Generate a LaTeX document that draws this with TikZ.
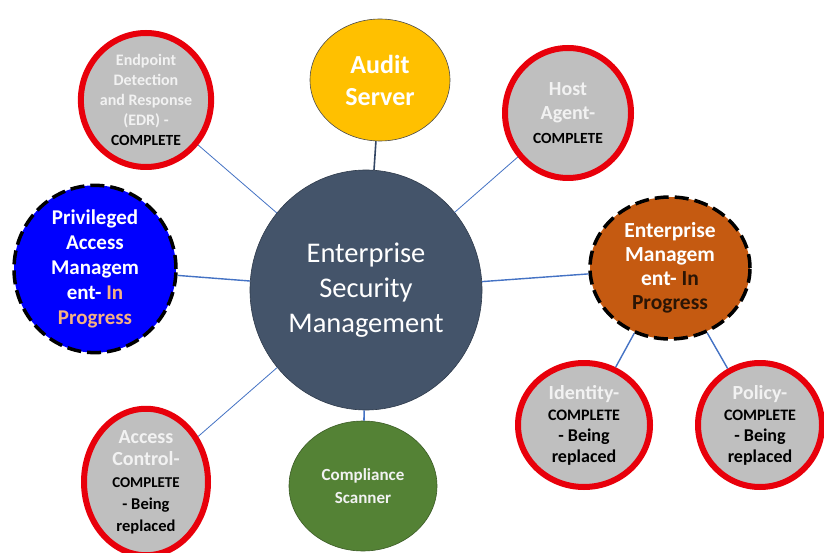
\documentclass[tikz,border=0pt]{standalone}
\usepackage{fontspec}
\setmainfont{Carlito}
\usetikzlibrary{shapes.geometric}
\definecolor{slate}{HTML}{44546A}
\definecolor{slateedge}{HTML}{2F3B4C}
\definecolor{audit}{HTML}{FFC000}
\definecolor{greyfill}{HTML}{BFBFBF}
\definecolor{redring}{HTML}{E8000B}
\definecolor{pamblue}{HTML}{0000FF}
\definecolor{emorange}{HTML}{C55A11}
\definecolor{green}{HTML}{548235}
\definecolor{linkblue}{HTML}{4472C4}
\definecolor{progorange}{HTML}{F4B183}
\definecolor{darkprog}{HTML}{2B1505}
\definecolor{paletxt}{HTML}{F2F2F2}
\tikzset{
  bubble/.style={ellipse, inner sep=0pt, align=center, font=\bfseries},
  done/.style={bubble, fill=greyfill, draw=redring, line width=6pt, text=paletxt},
  wip/.style={bubble, draw=black, line width=3.5pt, dash pattern=on 14pt off 6pt},
  link/.style={draw=linkblue, line width=0.8pt},
}
\newcommand{\blk}[2]{{\color{black}\fontsize{#1}{#2}\selectfont}}
\begin{document}
\begin{tikzpicture}[x=1pt,y=-1pt]
\useasboundingbox[fill=white] (0,0) rectangle (824,553);

\node[bubble, fill=slate, draw=slateedge, line width=0.6pt, minimum width=232pt, minimum height=240pt,
  font=\fontsize{28.5}{35}\selectfont, text=white] (esm) at (366,290) {Enterprise\\Security\\Management};

\node[bubble, fill=audit, draw=black!70, line width=0.6pt, minimum width=140pt, minimum height=122pt,
  font=\bfseries\fontsize{26}{32}\selectfont, text=white] (audit) at (380,80) {Audit\\Server};

\node[done, minimum width=128pt, minimum height=134pt, font=\bfseries\fontsize{16}{20}\selectfont]
  (edr) at (146,100) {Endpoint\\Detection\\and Response\\(EDR) -\\{\color{black}\fontsize{15.5}{20}\selectfont COMPLETE}};

\node[done, minimum width=126pt, minimum height=130pt, font=\bfseries\fontsize{20}{24}\selectfont]
  (host) at (568,113) {Host\\Agent-\\{\color{black}\fontsize{15.5}{22}\selectfont COMPLETE}};

\node[wip, fill=pamblue, minimum width=162pt, minimum height=142pt, text=white,
  font=\bfseries\fontsize{21}{25}\selectfont]
  (pam) at (95,269) {Privileged\\Access\\Managem\\ent- {\color{progorange}In}\\{\color{progorange}Progress}};

\node[wip, fill=emorange, minimum width=160pt, minimum height=142pt, text=white,
  font=\bfseries\fontsize{21.5}{24}\selectfont]
  (em) at (670,268) {Enterprise\\Managem\\ent- {\color{darkprog}In}\\{\color{darkprog}Progress}};

\node[done, minimum width=132pt, minimum height=124pt, font=\bfseries\fontsize{20}{21}\selectfont]
  (idn) at (584,425) {Identity-\\{\color{black}\fontsize{16}{20}\selectfont COMPLETE}\\{\color{black}\fontsize{18}{20}\selectfont - Being}\\{\color{black}\fontsize{18}{20}\selectfont replaced}};

\node[done, minimum width=124pt, minimum height=124pt, font=\bfseries\fontsize{20}{21}\selectfont]
  (pol) at (760,425) {Policy-\\{\color{black}\fontsize{16}{20}\selectfont COMPLETE}\\{\color{black}\fontsize{18}{20}\selectfont - Being}\\{\color{black}\fontsize{18}{20}\selectfont replaced}};

\node[done, minimum width=124pt, minimum height=116pt, font=\bfseries\fontsize{20}{22}\selectfont]
  (acc) at (146,482) {Access\\Control-\\{\color{black}\fontsize{15}{19}\selectfont COMPLETE}\\{\color{black}\fontsize{16.5}{19}\selectfont - Being}\\{\color{black}\fontsize{16.5}{19}\selectfont replaced}};

\node[bubble, fill=green, draw=green!70!black, line width=0.6pt, minimum width=148pt, minimum height=130pt,
  font=\bfseries\fontsize{17}{23}\selectfont, text=paletxt] (comp) at (363,486) {Compliance\\Scanner};

\draw[draw=slateedge!80!linkblue, line width=1.6pt] (audit) -- (esm);
\draw[link] (edr) -- (esm);
\draw[link] (host) -- (esm);
\draw[link, line width=1.4pt] (pam) -- (esm);
\draw[link, line width=1.4pt] (em) -- (esm);
\draw[link] (acc) -- (esm);
\draw[link, line width=1.6pt] (comp) -- (esm);
\draw[link, line width=1.4pt] (em) -- (idn);
\draw[link, line width=1.4pt] (em) -- (pol);
\end{tikzpicture}
\end{document}
